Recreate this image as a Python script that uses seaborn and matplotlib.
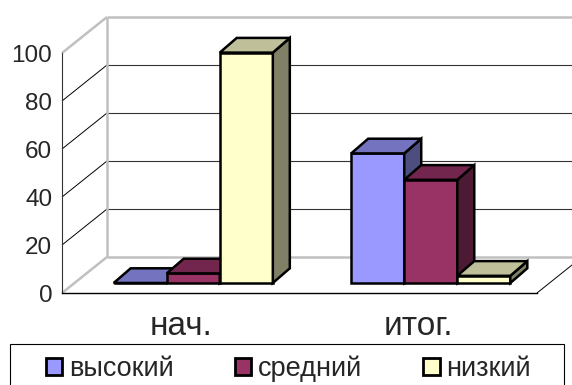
import numpy as np
import pandas as pd
import matplotlib
matplotlib.use("Agg")
import matplotlib.pyplot as plt
import seaborn as sns
from matplotlib.patches import Polygon, Rectangle, Patch
from matplotlib.transforms import offset_copy
from matplotlib.colors import to_rgb

# --- data -------------------------------------------------------------
stages = ["нач.", "итог."]
levels = ["высокий", "средний", "низкий"]
high = [0, 54]
mid = [4, 43]
low = [96, 3]
level_colors = ["#9999FF", "#993366", "#FFFFCC"]
y_ticks = [0, 20, 40, 60, 80, 100]

rows = []
for lvl, vals in zip(levels, [high, mid, low]):
    for st, v in zip(stages, vals):
        rows.append({"этап": st, "уровень": lvl, "значение": v})
df = pd.DataFrame(rows)

# --- style ------------------------------------------------------------
sns.set_style("white")
plt.rcParams["font.family"] = ["Liberation Sans", "DejaVu Sans"]

W, H = 572, 385
fig = plt.figure(figsize=(W / 100, H / 100), dpi=100)
# axes = front plane of the 3D box
ax = fig.add_axes([62 / W, 92 / H, 475 / W, 240 / H])

sns.barplot(data=df, x="этап", y="значение", hue="уровень",
            order=stages, hue_order=levels, palette=level_colors,
            saturation=1, width=0.67, edgecolor="black", linewidth=1.8,
            legend=False, ax=ax)
ax.set_xlim(-0.5, 1.5)
ax.set_ylim(0, 100)
ax.set_xlabel("")
ax.set_ylabel("")

# pixel -> data unit conversion
ppx = ax.bbox.width / 2.0
ppy = ax.bbox.height / 100.0

# depth offsets (pixels)
WALL = (45, 36)        # back wall relative to front plane
BAR_SHIFT = (12.5, 10)  # bar fronts relative to front plane
BAR_DEPTH = (17, 14.7)  # depth of each bar

wdx, wdy = WALL[0] / ppx, WALL[1] / ppy
bdx, bdy = BAR_DEPTH[0] / ppx, BAR_DEPTH[1] / ppy

# --- back wall, floor and gridlines --------------------------------
wall_grey = "#C0C0C0"
line_kw = dict(clip_on=False, solid_capstyle="butt")
for v in y_ticks[1:-1]:
    ax.plot([-0.5 + wdx, 1.5 + wdx], [v + wdy, v + wdy], color="#333333", lw=0.8, zorder=1, **line_kw)
    ax.plot([-0.5, -0.5 + wdx], [v, v + wdy], color="black", lw=0.7, zorder=1, **line_kw)
# wall outline
ax.plot([-0.5 + wdx, -0.5 + wdx], [wdy, 100 + wdy], color=wall_grey, lw=1.8, zorder=1.1, **line_kw)
ax.plot([-0.5 + wdx, 1.5 + wdx], [100 + wdy, 100 + wdy], color=wall_grey, lw=1.8, zorder=1.1, **line_kw)
ax.plot([-0.5 + wdx, 1.5 + wdx], [wdy, wdy], color=wall_grey, lw=1.8, zorder=1.1, **line_kw)
ax.plot([-0.5, -0.5 + wdx], [0, wdy], color=wall_grey, lw=1.8, zorder=1.1, **line_kw)
ax.plot([-0.5, -0.5 + wdx], [100, 100 + wdy], color=wall_grey, lw=1.8, zorder=1.1, **line_kw)
ax.plot([1.5, 1.5 + wdx], [0, wdy], color="black", lw=0.7, zorder=1.1, **line_kw)

# --- 3D bars ----------------------------------------------------------
bar_tr = offset_copy(ax.transData, fig=fig, x=BAR_SHIFT[0], y=BAR_SHIFT[1], units="dots")
bars = sorted(list(ax.patches), key=lambda p: p.get_x())
for i, p in enumerate(bars):
    x0, w, h = p.get_x(), p.get_width(), p.get_height()
    fc = np.array(to_rgb(p.get_facecolor()))
    z = 3 + i * 0.1
    p.set_transform(bar_tr)
    p.set_clip_on(False)
    p.set_zorder(z)
    top = Polygon([(x0, h), (x0 + w, h), (x0 + w + bdx, h + bdy), (x0 + bdx, h + bdy)],
                  closed=True, facecolor=fc * 0.75, edgecolor="black", lw=1.8,
                  transform=bar_tr, clip_on=False, zorder=z, joinstyle="miter")
    side = Polygon([(x0 + w, 0), (x0 + w + bdx, bdy), (x0 + w + bdx, h + bdy), (x0 + w, h)],
                   closed=True, facecolor=fc * 0.5, edgecolor="black", lw=1.8,
                   transform=bar_tr, clip_on=False, zorder=z, joinstyle="miter")
    ax.add_patch(side)
    ax.add_patch(top)

# --- axes, ticks ------------------------------------------------------
for s in ["top", "right"]:
    ax.spines[s].set_visible(False)
ax.spines["left"].set_color("#333333")
ax.spines["left"].set_linewidth(0.8)
ax.spines["bottom"].set_color("black")
ax.spines["bottom"].set_linewidth(1.0)
ax.patch.set_visible(False)

ax.set_yticks(y_ticks)
ax.tick_params(axis="y", length=3, width=0.8, color="#333333", pad=4,
               labelsize=17.5, direction="out")
ax.set_xticks([0, 1])
ax.set_xticklabels(stages)
ax.set_xticks([-0.5, 0.5, 1.5], minor=True)
ax.tick_params(axis="x", which="major", length=0, pad=13, labelsize=24)
ax.tick_params(axis="x", which="minor", length=3.6, width=0.8, color="black", direction="out")

# --- legend -----------------------------------------------------------
handles = [Patch(facecolor=c, edgecolor="black", linewidth=2.0, label=l)
           for c, l in zip(level_colors, levels)]
fig.legend(handles=handles, loc="center", ncol=3, mode="expand",
           bbox_to_anchor=(46 / W, 1 / H, (531 - 46) / W, 31 / H),
           frameon=False, fontsize=19.5, handlelength=0.6, handleheight=0.6,
           handletextpad=0.25, borderpad=0, borderaxespad=0)
fig.add_artist(Rectangle((10 / W, -0.02), 554 / W, (385 - 344) / H + 0.02,
                         transform=fig.transFigure, fill=False,
                         edgecolor="black", lw=0.8))

fig.savefig("out.png", dpi=100, facecolor="white")
